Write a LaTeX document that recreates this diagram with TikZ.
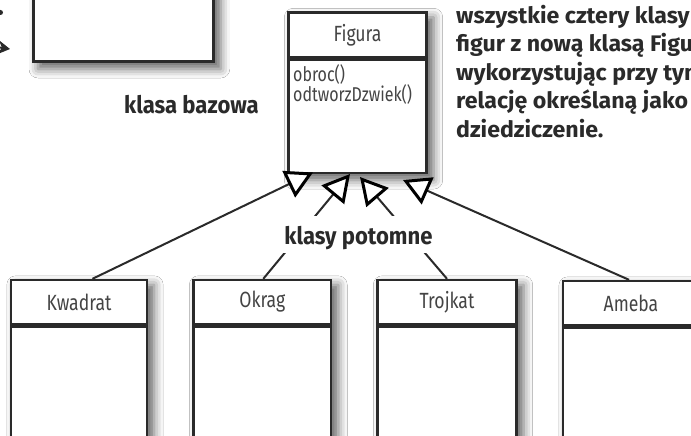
\documentclass[tikz,border=0pt]{standalone}
\usepackage{fontspec}
\setmainfont{Fira Sans}
\newfontfamily\uifont[FakeStretch=0.8]{Fira Sans}
\newfontfamily\handfont[FakeStretch=0.92]{Fira Sans}
\newfontfamily\notefont[FakeStretch=1.03]{Fira Sans}
\usetikzlibrary{arrows.meta,shadows.blur,backgrounds}
\definecolor{ink}{HTML}{2A2A2A}
\definecolor{labelgray}{HTML}{444444}
\tikzset{
  shadowed/.style={blur shadow={shadow xshift=6pt, shadow yshift=-6pt, shadow blur radius=9pt, shadow opacity=60}},
  boxframe/.style={draw=ink, line width=2.4pt, fill=white, inner sep=0pt},
  clsname/.style={font=\uifont\fontsize{22}{22}\selectfont, text=labelgray},
  methods/.style={font=\uifont\fontsize{20}{18}\selectfont, text=labelgray, inner sep=0pt, align=left},
  hand/.style={font=\handfont\bfseries\fontsize{24}{28}\selectfont, text=ink, inner sep=0pt},
  gen/.style={draw=ink, line width=2pt,
    -{Triangle[length=27pt,width=29pt,color=black,fill=white,line width=3pt]}},
}
\begin{document}
\begin{tikzpicture}[x=1pt,y=-1pt]
\clip (0,0) rectangle (691,436);

% box cut at the top left
\node[boxframe, line width=2.8pt, minimum width=180pt, minimum height=110pt, anchor=south west] (prev) at (32,63) {};
\coordinate (src) at (-25,44);
\coordinate (srctip) at (10,49);
\draw[ink, line width=2pt, -{Stealth[length=12pt,width=14pt]}] (src) -- (srctip);
\fill[ink] (0.5,12.5) circle (2.5);

% base class
\node[boxframe, clsname, minimum width=138pt, minimum height=45pt] (fig) at (357.5,35) {Figura};
\node[boxframe, minimum width=138pt, minimum height=113pt, anchor=north] (figb) at (fig.south) {};
\node[methods, anchor=base west] (meth) at (293,102) {obroc()\\odtworzDzwiek()};

% derived classes
\node[boxframe, clsname, minimum width=136pt, minimum height=44pt] (kw) at (79,302) {Kwadrat};
\node[boxframe, minimum width=136pt, minimum height=130pt, anchor=north] (kwb) at (kw.south) {};
\node[boxframe, clsname, minimum width=137.5pt, minimum height=44pt] (ok) at (262.3,302) {Okrag};
\node[boxframe, minimum width=137.5pt, minimum height=130pt, anchor=north] (okb) at (ok.south) {};
\node[boxframe, clsname, minimum width=139pt, minimum height=44pt] (tj) at (447,302) {Trojkat};
\node[boxframe, minimum width=139pt, minimum height=130pt, anchor=north] (tjb) at (tj.south) {};
\node[boxframe, clsname, minimum width=136pt, minimum height=44pt] (am) at (631,303) {Ameba};
\node[boxframe, minimum width=136pt, minimum height=130pt, anchor=north] (amb) at (am.south) {};

% shadows and page background
\begin{scope}[on background layer]
  \fill[white] (0,0) rectangle (691,436);
  \path[shadowed, fill=white] (prev.north west) rectangle (prev.south east);
  \path[shadowed, fill=white] (fig.north west) rectangle (figb.south east);
  \path[shadowed, fill=white] (kw.north west) rectangle (kwb.south east);
  \path[shadowed, fill=white] (ok.north west) rectangle (okb.south east);
  \path[shadowed, fill=white] (tj.north west) rectangle (tjb.south east);
  \path[shadowed, fill=white] (am.north west) rectangle (amb.south east);
\end{scope}

% generalization arrows
\coordinate (t1) at (313,172.5);
\coordinate (t2) at (350,174);
\coordinate (t3) at (360,177);
\coordinate (t4) at (403,180);
\draw[gen] ([xshift=13.5pt]kw.north) -- (t1);
\draw[gen] ([xshift=1pt]ok.north) -- (t2);
\draw[gen] (tj.north) -- (t3);
\draw[gen] ([xshift=-2pt]am.north) -- (t4);

% labels
\node[hand, fill=white, text height=28pt, text depth=9pt, inner xsep=2pt, anchor=base] (potomne) at (358.5,244) {klasy potomne};
\node[hand, anchor=base west] (bazowa) at (124,113.3) {klasa bazowa};
\node[hand, font=\notefont\bfseries\fontsize{22.5}{28.5}\selectfont, align=left, anchor=base west] (note) at (456,137)
  {wszystkie cztery klasy\\figur z nową klasą Figura,\\wykorzystując przy tym\\relację określaną jako\\dziedziczenie.};
\end{tikzpicture}
\end{document}
